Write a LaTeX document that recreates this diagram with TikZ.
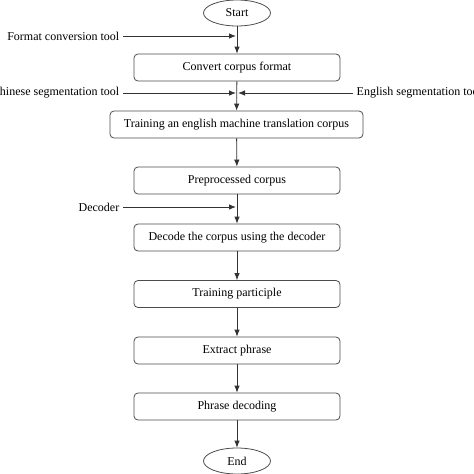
\documentclass[tikz,border=0pt]{standalone}
\usepackage{fontspec}
\setmainfont{Liberation Serif}
\usetikzlibrary{shapes.geometric,arrows.meta}

\begin{document}
\begin{tikzpicture}[x=1pt,y=-1pt,font=\fontsize{12}{14}\selectfont,
  line width=0.8pt,
  box/.style={draw=black!70,rounded corners=4pt,minimum width=206pt,minimum height=27pt,inner sep=0pt},
  term/.style={draw=black!70,ellipse,minimum width=67pt,minimum height=26pt,inner sep=0pt},
  arr/.style={draw=black!80,-{Latex[length=7pt,width=5.5pt]}}]
  \useasboundingbox (0,0) rectangle (474,474);
  \node[term] (Start) at(237,13){Start};
  \node[box] (Convert) at(237,67.5){Convert corpus format};
  \node[box,minimum width=253pt] (Train) at(236.5,124.5){Training an english machine translation corpus};
  \node[box] (Prep) at(237,180.5){Preprocessed corpus};
  \node[box] (Decode) at(237,237.5){Decode the corpus using the decoder};
  \node[box] (Part) at(237,294){Training participle};
  \node[box] (Extract) at(237,350.5){Extract phrase};
  \node[box] (Phrase) at(237,406.5){Phrase decoding};
  \node[term] (End) at(237,461){End};
  % tools
  \node[anchor=east] (Fmt) at(123,36){Format conversion tool};
  \node[anchor=east] (Chn) at(123,93){Chinese segmentation tool};
  \node[anchor=west] (Eng) at(353,93){English segmentation tool};
  \node[anchor=east] (Dec) at(123,207){Decoder};
  \coordinate (J1) at(236,36);
  \coordinate (J2) at(236,93);
  \coordinate (J3) at(238,93);
  \coordinate (J4) at(236,207);
  % main flow
  \draw[arr] (Start) -- (Convert);
  \draw[arr] (Convert) -- (Train);
  \draw[arr] (Train) -- (Prep);
  \draw[arr] (Prep) -- (Decode);
  \draw[arr] (Decode) -- (Part);
  \draw[arr] (Part) -- (Extract);
  \draw[arr] (Extract) -- (Phrase);
  \draw[arr] (Phrase) -- (End);
  % side inputs
  \draw[arr] (Fmt) -- (J1);
  \draw[arr] (Chn) -- (J2);
  \draw[arr] (Eng) -- (J3);
  \draw[arr] (Dec) -- (J4);
\end{tikzpicture}
\end{document}
